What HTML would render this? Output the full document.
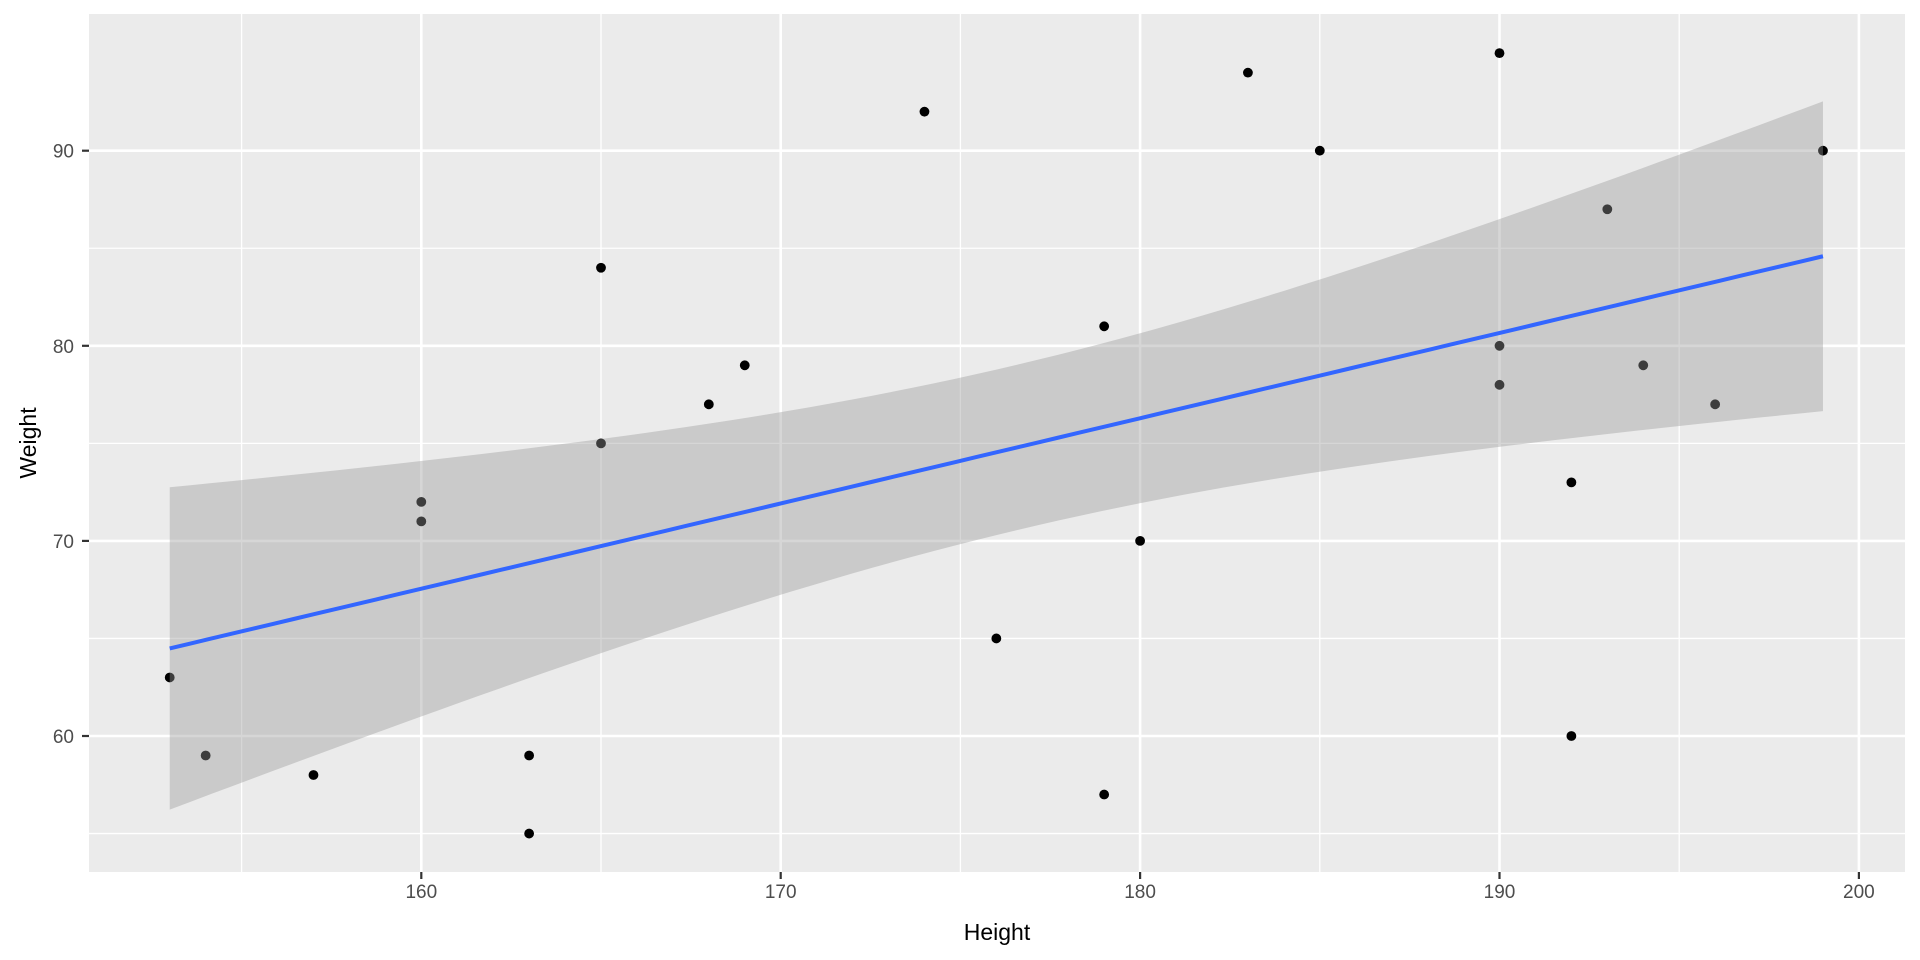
<!DOCTYPE html>
<html><head><meta charset="utf-8"><style>
html,body{margin:0;padding:0;background:#fff;}
svg{display:block;font-family:"Liberation Sans",Arial,sans-serif;}
</style></head><body>
<svg id="chart" width="1920" height="960"></svg>
<script>
const heights = [153,154,157,160,160,163,163,165,165,168,169,174,176,179,179,180,183,185,190,190,190,192,192,193,194,196,199];
const weights = [63,59,58,72,71,59,55,84,75,77,79,92,65,81,57,70,94,90,95,80,78,73,60,87,79,77,90];
const xTicks = [160,170,180,190,200];
const yTicks = [60,70,80,90];
const xMinor = [155,165,175,185,195];
const yMinor = [55,65,75,85];

const NS = "http://www.w3.org/2000/svg";
const svg = document.getElementById('chart');
const P = {l:89, r:1905, t:14, b:872};
const sx = v => 421.3 + (v-160)*35.94;
const sy = v => 736 - (v-60)*19.51;
function mk(tag, attrs, parent){const e=document.createElementNS(NS,tag);for(const k in attrs)e.setAttribute(k,attrs[k]);(parent||svg).appendChild(e);return e;}

const panel = mk('rect',{x:P.l,y:P.t,width:P.r-P.l,height:P.b-P.t,fill:'#EBEBEB'});



xMinor.forEach(v=>{const l=mk('line',{x1:sx(v),x2:sx(v),y1:P.t,y2:P.b,stroke:'#fff','stroke-width':1.3});

});
yMinor.forEach(v=>{const l=mk('line',{x1:P.l,x2:P.r,y1:sy(v),y2:sy(v),stroke:'#fff','stroke-width':1.3});

});
xTicks.forEach(v=>{const l=mk('line',{x1:sx(v),x2:sx(v),y1:P.t,y2:P.b,stroke:'#fff','stroke-width':2.6});


const t=mk('line',{x1:sx(v),x2:sx(v),y1:P.b,y2:P.b+7,stroke:'#333','stroke-width':2.2});


const tx=mk('text',{x:sx(v),y:P.b+26,'text-anchor':'middle','font-size':19,fill:'#4D4D4D'});tx.textContent=v;

});
yTicks.forEach(v=>{const l=mk('line',{x1:P.l,x2:P.r,y1:sy(v),y2:sy(v),stroke:'#fff','stroke-width':2.6});


const t=mk('line',{x1:P.l-7,x2:P.l,y1:sy(v),y2:sy(v),stroke:'#333','stroke-width':2.2});


const tx=mk('text',{x:P.l-15,y:sy(v)+7,'text-anchor':'end','font-size':19,fill:'#4D4D4D'});tx.textContent=v;

});

heights.forEach((h,i)=>{const c=mk('circle',{cx:sx(h),cy:sy(weights[i]),r:4.9,fill:'#000'});

});

// linear regression + 95% CI
const n=heights.length;
const mx=heights.reduce((a,b)=>a+b,0)/n, my=weights.reduce((a,b)=>a+b,0)/n;
let sxx=0,sxy=0;heights.forEach((h,i)=>{sxx+=(h-mx)**2;sxy+=(h-mx)*(weights[i]-my);});
const b1=sxy/sxx,b0=my-b1*mx;
let sse=0;heights.forEach((h,i)=>{sse+=(weights[i]-b0-b1*h)**2;});
const s=Math.sqrt(sse/(n-2)), tq=2.06;
const xmin=Math.min(...heights), xmax=Math.max(...heights);
const up=[],lo=[],ln=[];
for(let k=0;k<=80;k++){const x=xmin+(xmax-xmin)*k/80;const f=b0+b1*x;const se=s*Math.sqrt(1/n+(x-mx)**2/sxx);
up.push(sx(x)+','+sy(f+tq*se));lo.unshift(sx(x)+','+sy(f-tq*se));ln.push(sx(x)+','+sy(f));}
const band=mk('polygon',{points:up.concat(lo).join(' '),fill:'#999999','fill-opacity':0.4});


const line=mk('polyline',{points:ln.join(' '),fill:'none',stroke:'#3366FF','stroke-width':4});



const xt=mk('text',{x:(P.l+P.r)/2,y:940,'text-anchor':'middle','font-size':23,fill:'#000'});xt.textContent='Height';


const yt=mk('text',{x:0,y:0,transform:`translate(36,${(P.t+P.b)/2}) rotate(-90)`,'text-anchor':'middle','font-size':23,fill:'#000'});yt.textContent='Weight';


</script>
</body></html>
